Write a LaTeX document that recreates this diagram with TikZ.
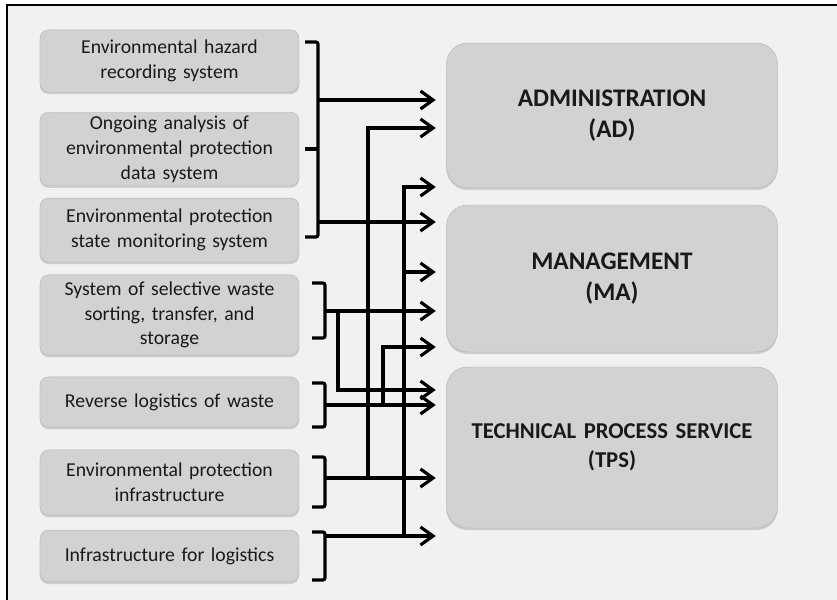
\documentclass[tikz,border=0pt]{standalone}
\usepackage{fontspec}
\setmainfont{Carlito}
\usetikzlibrary{arrows.meta,positioning,shadows}
\definecolor{panelgrey}{RGB}{241,241,241}
\definecolor{boxgrey}{RGB}{210,210,210}
\definecolor{boxedge}{RGB}{180,180,180}
\definecolor{inkgrey}{RGB}{25,25,25}

\begin{document}
\begin{tikzpicture}[
    srcbox/.style={rectangle, draw=boxedge, fill=boxgrey, rounded corners=8pt,
        minimum width=8.5cm, text width=8.4cm, align=center, text=inkgrey,
        font=\fontsize{18.7}{23.5}\selectfont,
        drop shadow={shadow xshift=0pt, shadow yshift=-2pt, opacity=0.3}},
    unitbox/.style={rectangle, draw=boxedge, fill=boxgrey, rounded corners=20pt,
        minimum width=11cm, text width=10.8cm, align=center, text=inkgrey,
        font=\bfseries\fontsize{24}{30}\selectfont,
        drop shadow={shadow xshift=0pt, shadow yshift=-2pt, opacity=0.3}},
    arr/.style={-{Straight Barb[length=4.2mm,width=6mm]}, line width=3pt,
        shorten >=3.5mm},
    brk/.style={line width=3pt, rounded corners=2pt}
]
    \path[use as bounding box, clip] (0,0) rectangle (27.9,-20);
    \draw[line width=1.6pt, fill=panelgrey] (0.233,-0.167) rectangle (29,-21);

    % sources on the left
    \node[srcbox, minimum height=2.07cm] (hazard) at (5.65,-2.033)
        {Environmental hazard\\recording system};
    \node[srcbox, minimum height=2.4cm] (analysis) at (5.65,-4.967)
        {Ongoing analysis of\\environmental protection\\data system};
    \node[srcbox, minimum height=2.13cm] (monitor) at (5.65,-7.667)
        {Environmental protection\\state monitoring system};
    \node[srcbox, minimum height=2.67cm] (sorting) at (5.65,-10.5)
        {System of selective waste\\sorting, transfer, and\\storage};
    \node[srcbox, minimum height=1.67cm] (reverse) at (5.65,-13.4)
        {Reverse logistics of waste};
    \node[srcbox, minimum height=2.17cm] (infra) at (5.65,-16.083)
        {Environmental protection\\infrastructure};
    \node[srcbox, minimum height=1.73cm] (logist) at (5.65,-18.533)
        {Infrastructure for logistics};

    % units on the right
    \node[unitbox, minimum height=4.83cm] (admin) at (20.4,-3.85)
        {ADMINISTRATION\\(AD)};
    \node[unitbox, minimum height=4.9cm] (manage) at (20.4,-9.283)
        {MANAGEMENT\\(MA)};
    \node[unitbox, minimum height=5.37cm, font=\bfseries\fontsize{21.5}{27}\selectfont]
        (tps) at (20.4,-14.917) {TECHNICAL PROCESS SERVICE\\(TPS)};

    % bracket over the first three sources
    \draw[brk] (10.167,-1.4) -- (10.6,-1.4) -- (10.6,-7.9) -- (10.167,-7.9);
    \draw[brk] (10.167,-4.967) -- (10.6,-4.967);
    \coordinate (a1) at (10.6,-3.333);
    \coordinate (a2) at (10.6,-7.4);
    \draw[arr] (a1) -- (a1 -| admin.west);
    \draw[arr] (a2) -- (a2 -| manage.west);

    % single brackets
    \draw[brk] (10.4,-9.433) -- (10.833,-9.433) -- (10.833,-11.267) -- (10.4,-11.267);
    \draw[brk] (10.4,-12.767) -- (10.833,-12.767) -- (10.833,-14.233) -- (10.4,-14.233);
    \draw[brk] (10.4,-15.233) -- (10.833,-15.233) -- (10.833,-16.9) -- (10.4,-16.9);
    \draw[brk] (10.4,-17.733) -- (10.833,-17.733) -- (10.833,-19.333) -- (10.4,-19.333);

    \coordinate (b) at (10.833,-10.367);
    \coordinate (c) at (10.833,-13.5);
    \coordinate (d) at (10.833,-15.933);
    \coordinate (e) at (10.833,-17.867);
    \coordinate (bj) at (11.267,-10.367);
    \coordinate (cj) at (12.767,-13.5);
    \coordinate (dj) at (12.267,-15.933);
    \coordinate (ej) at (13.467,-17.867);

    \draw[arr] (b) -- (b -| manage.west);
    \draw[arr] (bj) |- (tps.west |- 0,-13.0);
    \draw[arr] (c) -- (c -| tps.west);
    \draw[arr] (cj) |- (manage.west |- 0,-11.567);
    \draw[arr] (d) -- (d -| tps.west);
    \draw[arr] (dj) |- (admin.west |- 0,-4.267);
    \draw[arr] (e) -- (e -| tps.west);
    \draw[arr] (ej) |- (admin.west |- 0,-6.233);
    \draw[arr] (ej |- 0,-9.067) -- (manage.west |- 0,-9.067);
\end{tikzpicture}
\end{document}
